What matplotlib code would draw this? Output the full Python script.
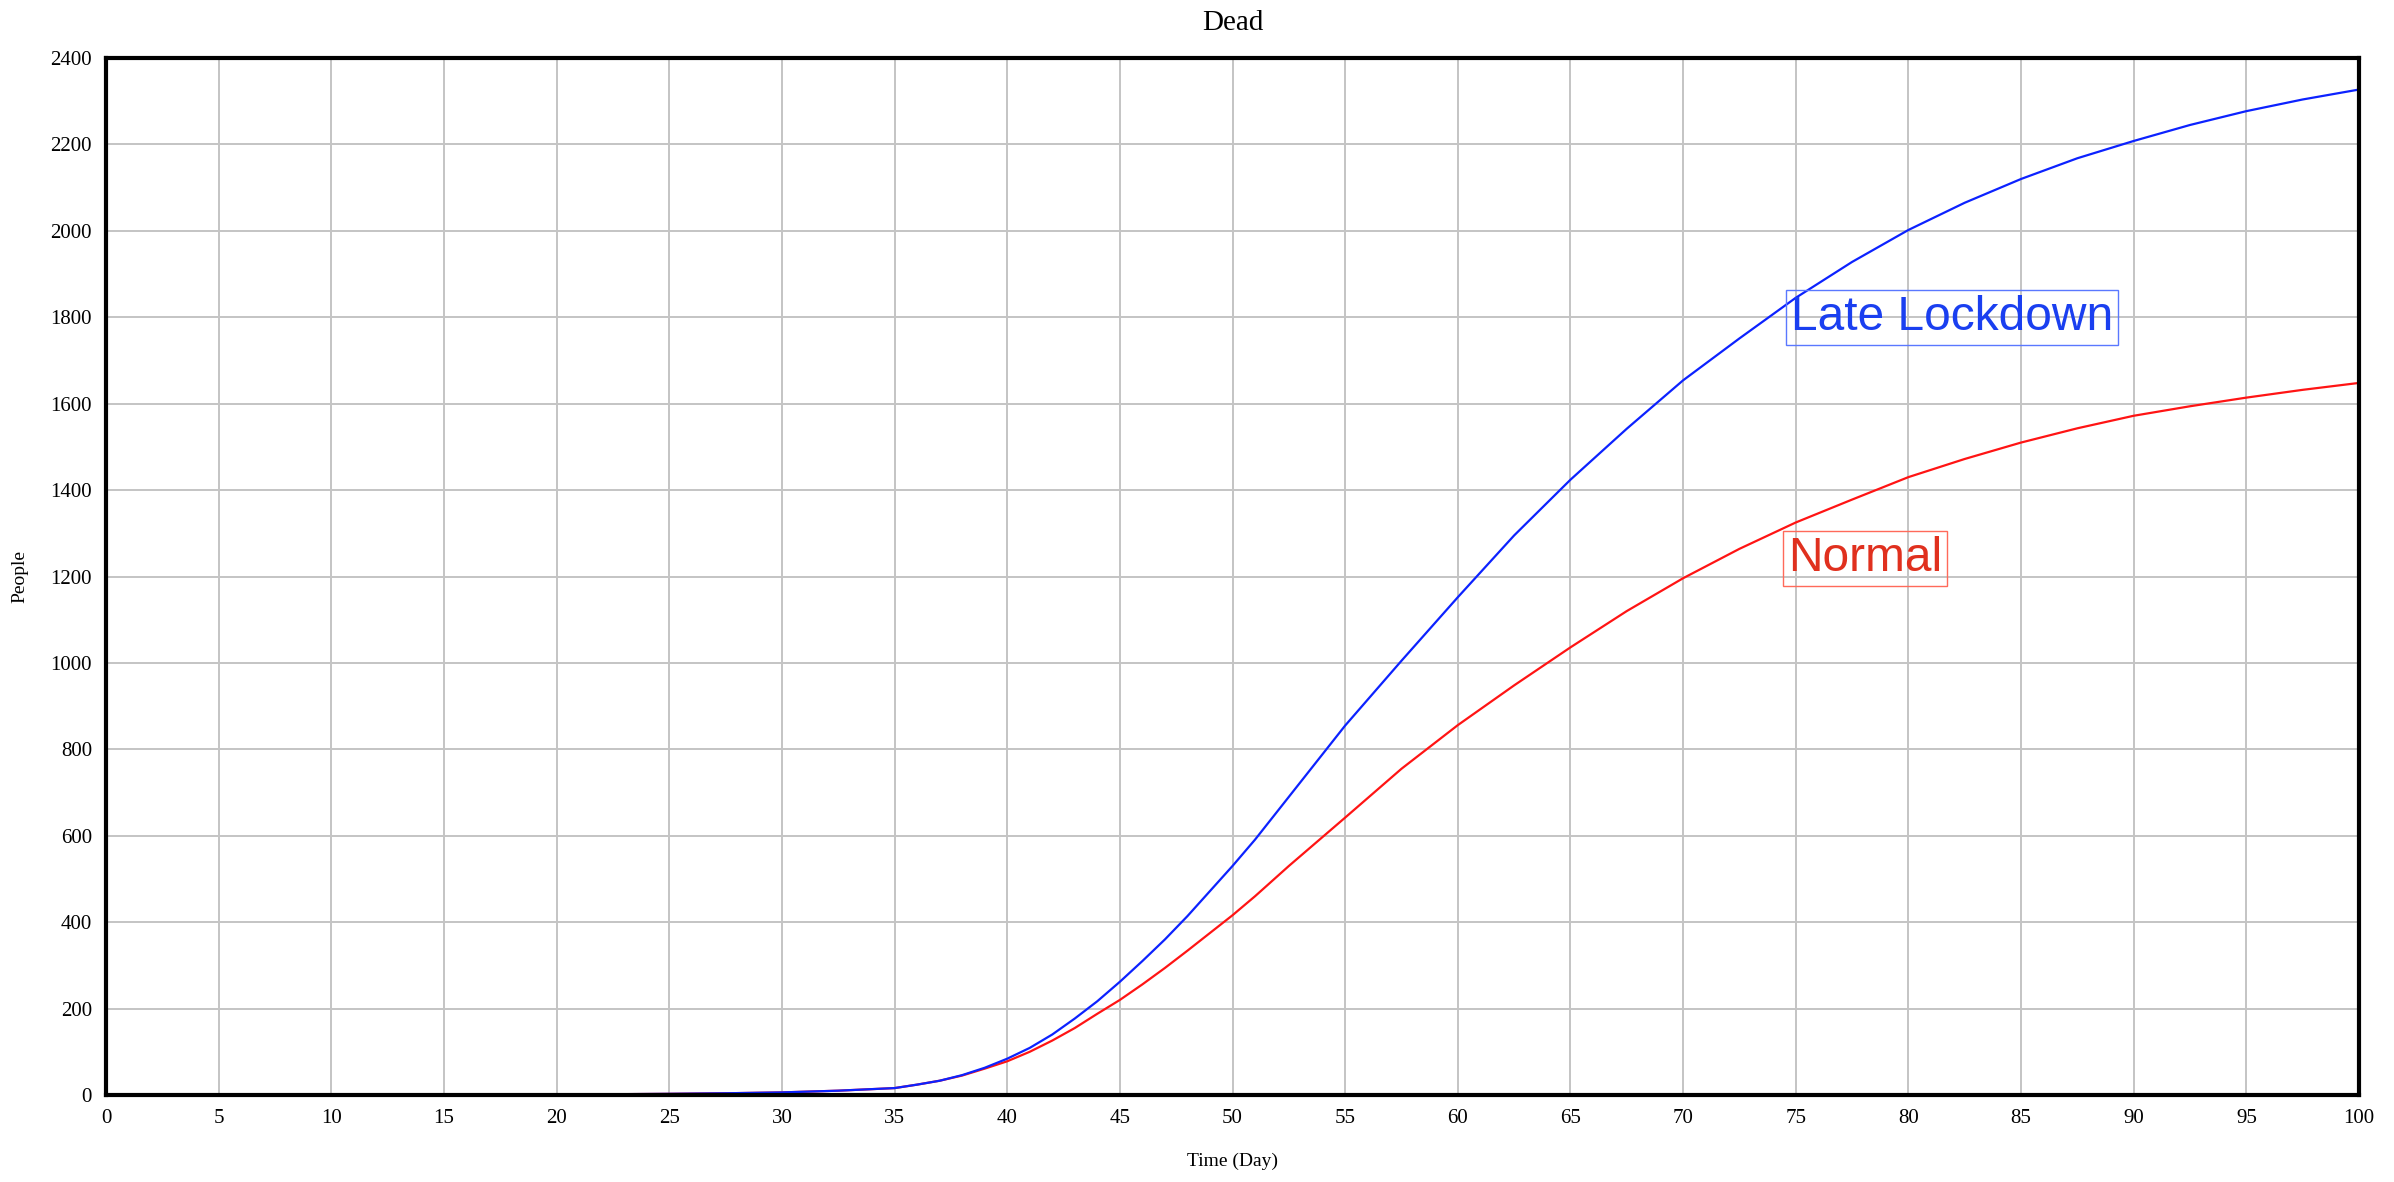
import numpy as np
import matplotlib.pyplot as plt

# Dead people over time, two scenarios
days = [0, 2.5, 5, 7.5, 10, 12.5, 15, 17.5, 20, 22.5, 25, 27.5, 30, 32.5,
        35, 36, 37, 38, 39, 40, 41, 42, 43, 44, 45, 46, 47, 48, 49, 50, 51,
        52.5, 55, 57.5, 60, 62.5, 65, 67.5, 70, 72.5, 75, 77.5, 80, 82.5,
        85, 87.5, 90, 92.5, 95, 97.5, 100]

late_lockdown = [0, 0, 0, 0.1, 0.2, 0.3, 0.5, 0.8, 1.2, 1.8, 2.7, 4, 6, 10,
                 16, 24, 33, 46, 63, 84, 109, 140, 177, 217, 262, 310, 360,
                 414, 472, 530, 591,
                 690, 855, 1005, 1152, 1295, 1424, 1542, 1654, 1751, 1845,
                 1928, 2002, 2065, 2120, 2168, 2208, 2245, 2277, 2304, 2327]

normal = [0, 0, 0, 0.1, 0.2, 0.3, 0.5, 0.8, 1.2, 1.8, 2.7, 4, 6, 10,
          16, 24, 33, 45, 61, 78, 100, 126, 155, 188, 220, 256, 294,
          334, 375, 416, 460,
          530, 642, 755, 856, 948, 1036, 1120, 1196, 1264, 1325,
          1378, 1430, 1472, 1510, 1543, 1572, 1594, 1614, 1632, 1648]

x_ticks = np.arange(0, 101, 5)
y_ticks = np.arange(0, 2401, 200)

serif = 'Liberation Serif'
sans = 'Liberation Sans'

fig = plt.figure(figsize=(23.94, 11.82), dpi=100)
ax = fig.add_axes([106/2394, 1 - 1095/1182, (2359 - 106)/2394, (1095 - 58)/1182])

ax.plot(days, normal, color='#ff1414', lw=1.6, zorder=3)
ax.plot(days, late_lockdown, color='#0c22ff', lw=1.6, zorder=4)

ax.set_xlim(0, 100)
ax.set_ylim(0, 2400)
ax.set_xticks(x_ticks)
ax.set_yticks(y_ticks)
ax.tick_params(length=0, labelsize=15, pad=10)
for lab in ax.get_xticklabels() + ax.get_yticklabels():
    lab.set_family(serif)

ax.grid(True, color='#c4c4c4', lw=1.4, zorder=0)
for s in ax.spines.values():
    s.set_linewidth(3)
    s.set_zorder(5)

ax.set_title('Dead', family=serif, fontsize=21, pad=20)
ax.set_xlabel('Time (Day)', family=serif, fontsize=14, labelpad=18)
ax.set_ylabel('People', family=serif, fontsize=14, labelpad=16)

# line labels
ax.text(74.8, 1800, 'Late Lockdown', family=sans, fontsize=34.5, color='#1a3ff0',
        va='center', ha='left', zorder=6,
        bbox=dict(boxstyle='square,pad=0.1', fc='none', ec='#5a78ff', lw=1))
ax.text(74.65, 1242, 'Normal', family=sans, fontsize=34.5, color='#e0301e',
        va='center', ha='left', zorder=6,
        bbox=dict(boxstyle='square,pad=0.1', fc='none', ec='#ff6a5a', lw=1))

fig.savefig('out.png', dpi=100)
